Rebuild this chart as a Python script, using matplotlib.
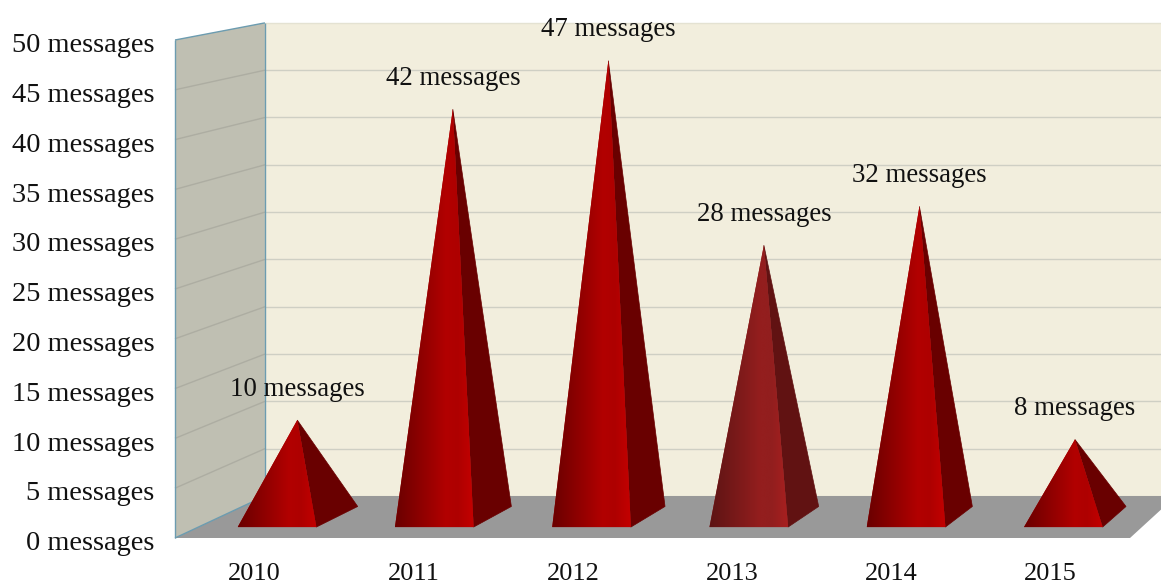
"""Pyramid chart of messages per year, drawn on a fake 3D box."""

import matplotlib

matplotlib.use("Agg")

import matplotlib.pyplot as plt
import numpy as np
from matplotlib.colors import LinearSegmentedColormap
from matplotlib.patches import Polygon
from matplotlib.transforms import ScaledTranslation

years = ["2010", "2011", "2012", "2013", "2014", "2015"]
counts = [10, 42, 47, 28, 32, 8]
y_ticks = [0, 5, 10, 15, 20, 25, 30, 35, 40, 45, 50]
y_labels = [f"{v} messages" for v in y_ticks]

# gradient stops of the left face, then the right face colour
normal_stops = ["#6a0000", "#b20000", "#ae0000", "#c40000"]
normal_side = "#690000"
faded_stops = ["#5c1414", "#941e1e", "#921e1e", "#a82020"]
faded_side = "#611212"
faded_year = "2013"

W, H = 1161, 584
plt.rcParams["font.family"] = ["Liberation Serif", "DejaVu Serif"]
FONT_SIZE = 19.4

fig = plt.figure(figsize=(W / 100, H / 100), dpi=100)
ax = fig.add_axes([175 / W, (H - 538) / H, 955 / W, 498 / H])


def project(x, v, d):
    # d is depth into the box, 0 = front, 1 = back wall
    shift = 0.565 - 0.0461 * (x + 0.5)
    return x + d * shift, 4.22 * d + v * (1 - 0.05 * d)


def face(points, **kwargs):
    patch = Polygon([project(*p) for p in points], closed=True, clip_on=False, **kwargs)
    ax.add_patch(patch)
    return patch


def edge(p0, p1, **kwargs):
    x0, y0 = project(*p0)
    x1, y1 = project(*p1)
    ax.plot([x0, x1], [y0, y1], clip_on=False, solid_capstyle="butt", **kwargs)


LEFT, RIGHT = -0.5, 5.5
TOP = y_ticks[-1]

# box
face([(LEFT, 0, 1), (RIGHT, 0, 1), (RIGHT, TOP, 1), (LEFT, TOP, 1)], fc="#f2eedd", ec="none", zorder=1)
face([(LEFT, 0, 0), (LEFT, 0, 1), (LEFT, TOP, 1), (LEFT, TOP, 0)], fc="#bfbfb2", ec="none", zorder=1)
face([(LEFT, 0, 0), (RIGHT, 0, 0), (RIGHT, 0, 1), (LEFT, 0, 1)], fc="#999999", ec="none", zorder=2)

for v in y_ticks[1:]:
    if v < TOP:
        edge((LEFT, v, 1), (RIGHT, v, 1), color="#cfcfc4", lw=1.0, zorder=1.5)
        edge((LEFT, v, 0), (LEFT, v, 1), color="#adada2", lw=1.0, zorder=1.5)
    else:
        edge((LEFT, v, 1), (RIGHT, v, 1), color="#e4e2d2", lw=1.0, zorder=1.5)

wall_edge = "#6c9cb0"
edge((LEFT, 0, 0), (LEFT, TOP, 0), color=wall_edge, lw=1.0, zorder=3)
edge((LEFT, 0, 1), (LEFT, TOP, 1), color=wall_edge, lw=1.0, zorder=3)
edge((LEFT, TOP, 0), (LEFT, TOP, 1), color=wall_edge, lw=1.0, zorder=3)
edge((LEFT, 0, 0), (LEFT, 0, 1), color=wall_edge, lw=1.0, zorder=3)

# pyramids
half = 0.25
front_d, back_d = 0.26, 0.75
mid_d = 0.495
for i, (year, n) in enumerate(zip(years, counts)):
    stops = faded_stops if year == faded_year else normal_stops
    side = faded_side if year == faded_year else normal_side
    apex = (i, n, mid_d)
    fl = (i - half, 0, front_d)
    fr = (i + half, 0, front_d)
    br = (i + half, 0, back_d)

    face([fr, br, apex], fc=side, ec=side, lw=0.5, zorder=4)

    clip = face([fl, fr, apex], fc=stops[1], ec="none", zorder=4.5)
    x0, _ = project(*fl)
    x1, _ = project(*fr)
    _, y_top = project(*apex)
    cmap = LinearSegmentedColormap.from_list("face", list(zip([0, 0.65, 0.8, 1], stops)))
    im = ax.imshow(
        np.linspace(0, 1, 128)[None, :],
        cmap=cmap,
        extent=(x0, x1, 0, y_top + 1),
        aspect="auto",
        zorder=5,
        interpolation="bilinear",
    )
    im.set_clip_path(clip)

    ax_x, ax_y = project(*apex)
    ax.annotate(
        f"{n} messages",
        xy=(ax_x, ax_y),
        xytext=(0, 31),
        textcoords="offset pixels",
        ha="center",
        va="center",
        fontsize=FONT_SIZE,
        color="#111111",
        annotation_clip=False,
        zorder=6,
    )

ax.set_xlim(LEFT, RIGHT)
ax.set_ylim(0, TOP)
ax.set_xticks(range(len(years)), years)
ax.set_yticks(y_ticks, y_labels)
ax.tick_params(axis="x", length=0, pad=18, labelsize=19, colors="#111111")
ax.tick_params(axis="y", length=0, pad=15, labelsize=20.4, colors="#111111")
# y labels sit a little under their gridline
nudge = ScaledTranslation(0, -2 / 72, fig.dpi_scale_trans)
for label in ax.get_yticklabels():
    label.set_transform(label.get_transform() + nudge)
for spine in ax.spines.values():
    spine.set_visible(False)
ax.patch.set_visible(False)

fig.savefig("out.png", dpi=100)
